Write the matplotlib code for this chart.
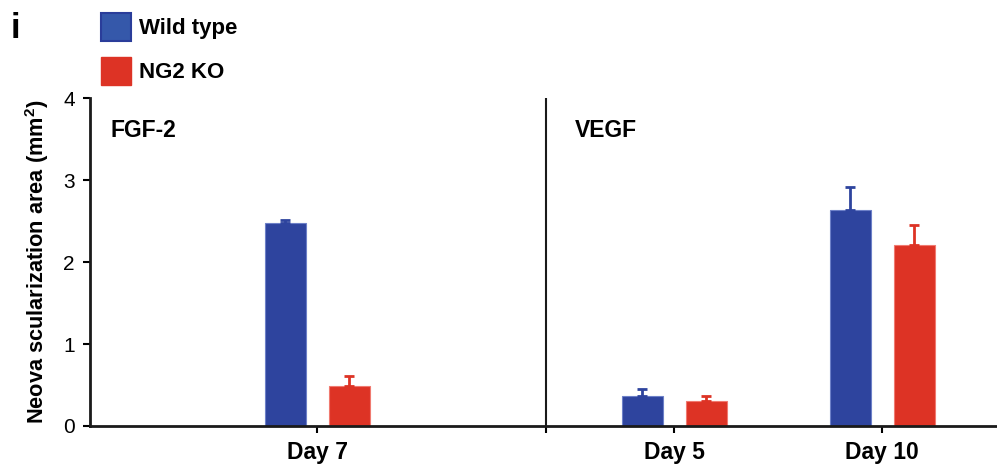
import matplotlib.pyplot as plt
from matplotlib.patches import Patch

plt.rcParams['font.family'] = ['Liberation Sans', 'DejaVu Sans']

# data
groups = ['Day 7', 'Day 5', 'Day 10']
wild_type = [2.48, 0.36, 2.64]
wild_type_err = [0.03, 0.09, 0.27]
ng2_ko = [0.49, 0.30, 2.21]
ng2_ko_err = [0.12, 0.06, 0.24]
panels = ['FGF-2', 'VEGF']

blue = '#2e449e'
red = '#dd3325'

# layout (x axis in units of 100 px)
group_x = [2.27, 5.84, 7.92]
divider_x = 4.56
offset = 0.32
width = 0.41

fig = plt.figure(figsize=(9.97, 4.67), dpi=100)
ax = fig.add_axes([0.0903, 0.0878, 0.9097, 0.7023])

wt_x = [g - offset for g in group_x]
ko_x = [g + offset for g in group_x]
ax.bar(wt_x, wild_type, width, color=blue, edgecolor='#6d80c8', linewidth=0.8, zorder=2)
ax.bar(ko_x, ng2_ko, width, color=red, edgecolor='#f07a70', linewidth=0.8, zorder=2)
ax.errorbar(wt_x, wild_type, yerr=[[0] * 3, wild_type_err], fmt='none',
            ecolor=blue, elinewidth=2, capsize=3.8, capthick=2, zorder=3)
ax.errorbar(ko_x, ng2_ko, yerr=[[0] * 3, ng2_ko_err], fmt='none',
            ecolor=red, elinewidth=2, capsize=3.8, capthick=2, zorder=3)

ax.axvline(divider_x, color='#1a1a1a', lw=1.5, zorder=1)

ax.set_xlim(0, 9.07)
ax.set_ylim(0, 4)
ax.set_yticks([0, 1, 2, 3, 4])
ax.set_xticks(group_x + [divider_x])
ax.set_xticklabels(groups + [''], fontsize=16.5, fontweight='bold')
ax.tick_params(axis='y', labelsize=15, direction='out', length=5, width=1.5, pad=6)
ax.tick_params(axis='x', direction='out', length=5, width=1.5, pad=6)

for side in ['top', 'right']:
    ax.spines[side].set_visible(False)
for side in ['left', 'bottom']:
    ax.spines[side].set_linewidth(2)
    ax.spines[side].set_color('#1a1a1a')

ax.set_ylabel('Neova scularization area (mm$\\mathregular{^2}$)', fontsize=15.7,
              fontweight='bold', labelpad=9)

ax.text(0.20, 3.6, panels[0], fontsize=16.5, fontweight='bold', va='center')
ax.text(4.85, 3.6, panels[1], fontsize=16.5, fontweight='bold', va='center')

fig.text(0.011, 0.94, 'i', fontsize=25, fontweight='bold', va='center')

handles = [Patch(facecolor='#3558aa', edgecolor='#2a3d9a', linewidth=1.5),
           Patch(facecolor=red, edgecolor=red)]
fig.legend(handles, ['Wild type', 'NG2 KO'], loc='upper left',
           bbox_to_anchor=(101 / 997, 1 - 13 / 467), frameon=False,
           prop={'size': 16, 'weight': 'bold'}, handlelength=1.35,
           handleheight=1.57, handletextpad=0.35, labelspacing=0.7,
           borderpad=0, borderaxespad=0)

fig.savefig('out.png', dpi=100)
